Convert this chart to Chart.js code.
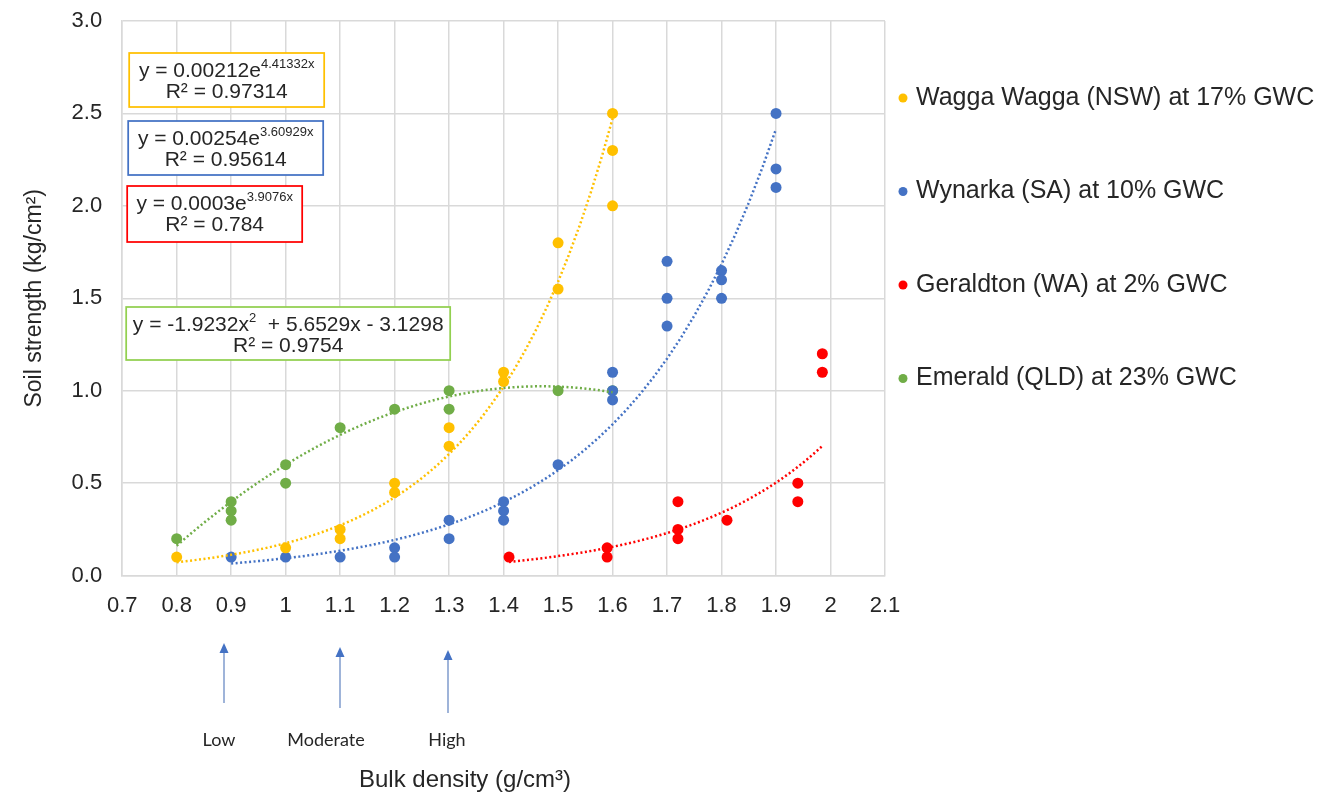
<!DOCTYPE html>
<html>
<head>
<meta charset="utf-8">
<script src="https://cdn.jsdelivr.net/npm/chart.js@4.4.1/dist/chart.umd.min.js"></script>
<style>
  html, body { margin: 0; padding: 0; background: #fff; }
  #wrap { width: 1344px; height: 798px; }
</style>
</head>
<body>
<div id="wrap"><canvas id="grafico"></canvas></div>
<script>
// ── Dados ────────────────────────────────────────────────────────
const seriesNames = [
    'Wagga Wagga (NSW) at 17% GWC',
    'Wynarka (SA) at 10% GWC',
    'Geraldton (WA) at 2% GWC',
    'Emerald (QLD) at 23% GWC'
];

const waggaX = [0.8, 1.0, 1.1, 1.1, 1.2, 1.2, 1.3, 1.3, 1.4, 1.4, 1.5, 1.5, 1.6, 1.6, 1.6];
const waggaY = [0.1, 0.15, 0.25, 0.2, 0.5, 0.45, 0.8, 0.7, 1.1, 1.05, 1.8, 1.55, 2.5, 2.3, 2.0];

const wynarkaX = [0.9, 1.0, 1.1, 1.2, 1.2, 1.3, 1.3, 1.4, 1.4, 1.4, 1.5, 1.6, 1.6, 1.6, 1.7, 1.7, 1.7, 1.8, 1.8, 1.8, 1.9, 1.9, 1.9];
const wynarkaY = [0.1, 0.1, 0.1, 0.15, 0.1, 0.3, 0.2, 0.4, 0.35, 0.3, 0.6, 1.1, 1.0, 0.95, 1.7, 1.5, 1.35, 1.65, 1.6, 1.5, 2.5, 2.2, 2.1];

const geraldtonX = [1.41, 1.59, 1.59, 1.72, 1.72, 1.72, 1.81, 1.94, 1.94, 1.985, 1.985];
const geraldtonY = [0.1, 0.15, 0.1, 0.4, 0.25, 0.2, 0.3, 0.5, 0.4, 1.2, 1.1];

const emeraldX = [0.8, 0.9, 0.9, 0.9, 1.0, 1.0, 1.1, 1.2, 1.3, 1.3, 1.5, 1.6];
const emeraldY = [0.2, 0.4, 0.35, 0.3, 0.6, 0.5, 0.8, 0.9, 1.0, 0.9, 1.0, 1.0];

// Coeficientes das linhas de tendência (equações mostradas no gráfico)
const waggaFit     = [0.00212, 4.41332];          // y = a·e^(bx)
const wynarkaFit   = [0.00254, 3.60929];
const geraldtonFit = [0.0003, 3.9076];
const emeraldFit   = [-1.9232, 5.6529, -3.1298];  // y = ax² + bx + c
const waggaRange     = [0.8, 1.6];
const wynarkaRange   = [0.9, 1.9];
const geraldtonRange = [1.41, 1.985];
const emeraldRange   = [0.8, 1.6];

const xTicks      = [0.7, 0.8, 0.9, 1.0, 1.1, 1.2, 1.3, 1.4, 1.5, 1.6, 1.7, 1.8, 1.9, 2.0, 2.1];
const xTickLabels = ['0.7', '0.8', '0.9', '1', '1.1', '1.2', '1.3', '1.4', '1.5', '1.6', '1.7', '1.8', '1.9', '2', '2.1'];
const yTicks      = [0, 0.5, 1.0, 1.5, 2.0, 2.5, 3.0];
const yTickLabels = ['0.0', '0.5', '1.0', '1.5', '2.0', '2.5', '3.0'];

const densityLabels = ['Low', 'Moderate', 'High'];

// ── Estilo ───────────────────────────────────────────────────────
const CORES = ['#FFC000', '#4472C4', '#FF0000', '#70AD47'];
const BORDAS_CAIXA = ['#FFC000', '#4472C4', '#FF0000', '#92D050'];
const TEXTO = '#262626';
const GRADE = '#d9d9d9';
const FONTE = "'Liberation Sans', Arial, sans-serif";

Chart.defaults.font.family = FONTE;
Chart.defaults.color = TEXTO;

const pontos = (xs, ys) => xs.map((x, i) => ({ x, y: ys[i] }));

function curvaExp(fit, range) {
    const out = [];
    const n = 40;
    for (let i = 0; i <= n; i++) {
        const x = range[0] + (range[1] - range[0]) * i / n;
        out.push({ x, y: fit[0] * Math.exp(fit[1] * x) });
    }
    return out;
}

function curvaPoli(fit, range) {
    const out = [];
    const n = 40;
    for (let i = 0; i <= n; i++) {
        const x = range[0] + (range[1] - range[0]) * i / n;
        out.push({ x, y: fit[0] * x * x + fit[1] * x + fit[2] });
    }
    return out;
}

const serieDados = [
    pontos(waggaX, waggaY),
    pontos(wynarkaX, wynarkaY),
    pontos(geraldtonX, geraldtonY),
    pontos(emeraldX, emeraldY)
];
const serieTendencia = [
    curvaExp(waggaFit, waggaRange),
    curvaExp(wynarkaFit, wynarkaRange),
    curvaExp(geraldtonFit, geraldtonRange),
    curvaPoli(emeraldFit, emeraldRange)
];

const datasets = [];
serieDados.forEach((d, i) => {
    datasets.push({
        label: seriesNames[i],
        data: d,
        backgroundColor: CORES[i],
        borderColor: CORES[i],
        pointRadius: 5.5,
        pointBorderWidth: 0,
        order: 1
    });
});
serieTendencia.forEach((d, i) => {
    datasets.push({
        label: seriesNames[i] + ' trend',
        data: d,
        showLine: true,
        borderColor: CORES[i],
        borderWidth: 2.5,
        borderDash: [2, 2.5],
        pointRadius: 0,
        fill: false,
        order: 0
    });
});

// ── Caixas de equação, setas e legenda (desenho próprio) ─────────
const caixas = [
    { left: 7,  top: 32,  w: 195, h: 54, cor: 0,
      l1: [{ t: 'y = 0.00212e' }, { t: '4.41332x', sup: true }], l2: 'R² = 0.97314' },
    { left: 6,  top: 100, w: 195, h: 54, cor: 1,
      l1: [{ t: 'y = 0.00254e' }, { t: '3.60929x', sup: true }], l2: 'R² = 0.95614' },
    { left: 5,  top: 165, w: 175, h: 56, cor: 2,
      l1: [{ t: 'y = 0.0003e' }, { t: '3.9076x', sup: true }], l2: 'R² = 0.784' },
    { left: 4,  top: 286, w: 324, h: 53, cor: 3,
      l1: [{ t: 'y = -1.9232x' }, { t: '2', sup: true }, { t: '  + 5.6529x - 3.1298' }], l2: 'R² = 0.9754' }
];

const setas = [
    { x: 224, tip: 643, tail: 703, lx: 219 },
    { x: 340, tip: 647, tail: 708, lx: 326 },
    { x: 448, tip: 650, tail: 713, lx: 447 }
];

function textoRico(ctx, partes, cx, cy) {
    const fN = '21px ' + FONTE, fS = '13px ' + FONTE;
    let total = 0;
    partes.forEach(p => { ctx.font = p.sup ? fS : fN; total += ctx.measureText(p.t).width; });
    let x = cx - total / 2;
    ctx.textAlign = 'left';
    ctx.textBaseline = 'alphabetic';
    partes.forEach(p => {
        ctx.font = p.sup ? fS : fN;
        ctx.fillText(p.t, x, cy + 7.5 - (p.sup ? 9 : 0));
        x += ctx.measureText(p.t).width;
    });
}

const anotacoes = {
    id: 'anotacoes',
    afterDatasetsDraw(chart) {
        const { ctx, chartArea } = chart;
        ctx.save();

        // caixas com equações
        caixas.forEach(c => {
            const x = chartArea.left + c.left, y = chartArea.top + c.top;
            ctx.fillStyle = '#fff';
            ctx.fillRect(x, y, c.w, c.h);
            ctx.strokeStyle = BORDAS_CAIXA[c.cor];
            ctx.lineWidth = 1.75;
            ctx.strokeRect(x, y, c.w, c.h);
            ctx.fillStyle = TEXTO;
            textoRico(ctx, c.l1, x + c.w / 2, y + 16);
            ctx.font = '21px ' + FONTE;
            ctx.textAlign = 'center';
            ctx.textBaseline = 'middle';
            ctx.fillText(c.l2, x + c.w / 2, y + 39);
        });

        // setas de densidade
        setas.forEach((s, i) => {
            ctx.strokeStyle = '#7f9bcc';
            ctx.lineWidth = 1.5;
            ctx.beginPath();
            ctx.moveTo(s.x, s.tail);
            ctx.lineTo(s.x, s.tip + 8);
            ctx.stroke();
            ctx.fillStyle = '#4472C4';
            ctx.beginPath();
            ctx.moveTo(s.x, s.tip);
            ctx.lineTo(s.x - 4.5, s.tip + 10);
            ctx.lineTo(s.x + 4.5, s.tip + 10);
            ctx.closePath();
            ctx.fill();
            ctx.fillStyle = TEXTO;
            ctx.font = "18px Lato, 'Open Sans', sans-serif";
            ctx.textAlign = 'center';
            ctx.textBaseline = 'middle';
            ctx.fillText(densityLabels[i], s.lx, 740);
        });

        // título do eixo x
        ctx.font = '24px ' + FONTE;
        ctx.fillStyle = TEXTO;
        ctx.textAlign = 'center';
        ctx.textBaseline = 'middle';
        ctx.fillText('Bulk density (g/cm³)', 465, 780);

        // legenda
        seriesNames.forEach((nome, i) => {
            const y = chartArea.top + 77 + i * 93.5;
            ctx.fillStyle = CORES[i];
            ctx.beginPath();
            ctx.arc(chartArea.right + 18, y, 4.5, 0, Math.PI * 2);
            ctx.fill();
            ctx.fillStyle = TEXTO;
            ctx.font = '25px ' + FONTE;
            ctx.textAlign = 'left';
            ctx.textBaseline = 'middle';
            ctx.fillText(nome, chartArea.right + 31, y);
        });

        ctx.restore();
    }
};

new Chart(document.getElementById('grafico'), {
    type: 'scatter',
    data: { datasets },
    options: {
        responsive: true,
        maintainAspectRatio: false,
        animation: false,
        layout: { padding: { left: 0, top: 21, right: 459, bottom: 162 } },
        plugins: {
            legend: { display: false },
            tooltip: { enabled: false }
        },
        scales: {
            x: {
                type: 'linear',
                min: 0.7, max: 2.1,
                afterBuildTicks: s => { s.ticks = xTicks.map(v => ({ value: v })); },
                ticks: {
                    callback: (v, i) => xTickLabels[i],
                    padding: 17,
                    font: { size: 22 },
                    color: TEXTO,
                    maxRotation: 0,
                    autoSkip: false
                },
                grid: { color: GRADE, lineWidth: 1.5, drawTicks: false },
                border: { color: GRADE, width: 1.5 }
            },
            y: {
                min: 0, max: 3,
                afterBuildTicks: s => { s.ticks = yTicks.map(v => ({ value: v })); },
                afterFit: s => { s.paddingTop = 0; },
                ticks: {
                    callback: (v, i) => yTickLabels[i],
                    padding: 20,
                    font: { size: 22 },
                    color: TEXTO
                },
                grid: { color: GRADE, lineWidth: 1.5, drawTicks: false },
                border: { color: GRADE, width: 1.5 },
                title: {
                    display: true,
                    text: 'Soil strength (kg/cm²)',
                    font: { size: 23 },
                    color: TEXTO,
                    padding: { top: 21, bottom: 3 }
                }
            }
        }
    },
    plugins: [anotacoes]
});
</script>
</body>
</html>
